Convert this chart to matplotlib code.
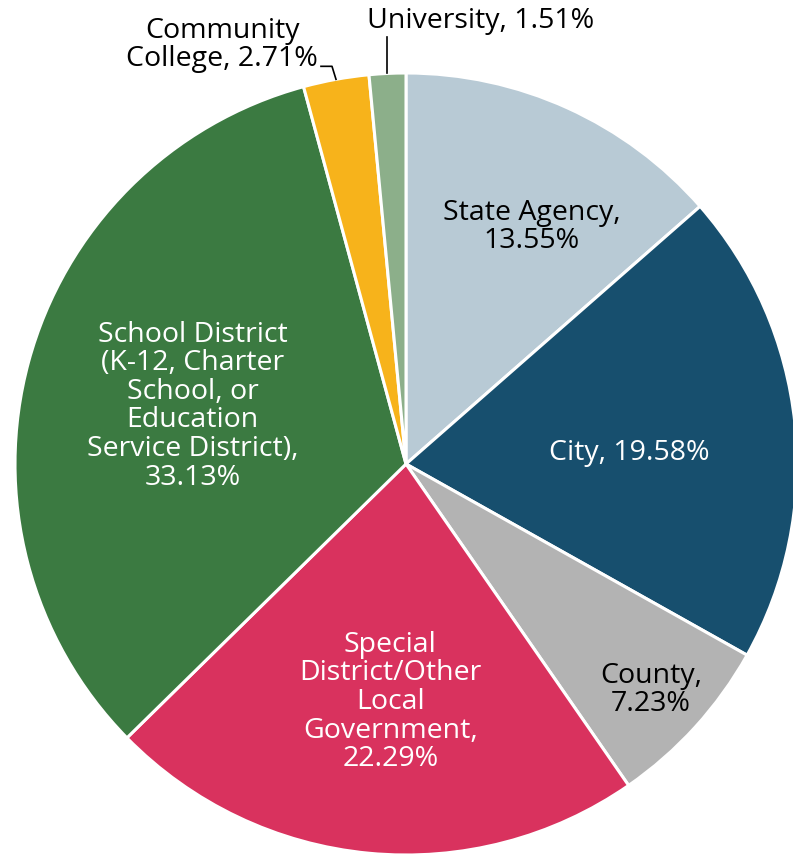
import matplotlib.pyplot as plt
import numpy as np

plt.rcParams['font.family'] = ['Open Sans', 'DejaVu Sans']

# Sector shares (%), clockwise from 12 o'clock
sectors = ['State Agency', 'City', 'County',
           'Special District/Other Local Government',
           'School District (K-12, Charter School, or Education Service District)',
           'Community College', 'University']
shares = [13.55, 19.58, 7.23, 22.29, 33.13, 2.71, 1.51]
colors = ['#b8cad5', '#174f6e', '#b3b3b3', '#d9325e', '#3b7a41', '#f7b31b', '#8caf8a']

# label text (wrapped as printed) and text colour
label_lines = ['State Agency,\n{:.2f}%', 'City, {:.2f}%', 'County,\n{:.2f}%',
               'Special\nDistrict/Other\nLocal\nGovernment,\n{:.2f}%',
               'School District\n(K-12, Charter\nSchool, or\nEducation\nService District),\n{:.2f}%',
               'Community\nCollege, {:.2f}%', 'University, {:.2f}%']
label_colors = ['black', 'white', 'black', 'white', 'white', 'black', 'black']
# inside labels: radius (fraction of R) and angle (deg) of the text block centre
label_r = [0.686, 0.571, 0.852, 0.610, 0.565]
label_ang = [62.0, 2.8, -42.7, -93.8, 164.8]

W, H = 793, 855
fig = plt.figure(figsize=(W / 100, H / 100), dpi=100)
ax = fig.add_axes([0, 0, 1, 1])

cx, cy, R = 406, H - 464, 391
wedges, _ = ax.pie(shares, colors=colors, startangle=90, counterclock=False,
                   center=(cx, cy), radius=R, frame=True,
                   wedgeprops=dict(edgecolor='white', linewidth=2.2))
ax.set_xlim(0, W)
ax.set_ylim(0, H)
ax.set_aspect('equal')
ax.axis('off')

fs = 20.5
ls = 1.03
for i in range(5):
    t = np.deg2rad(label_ang[i])
    x = cx + label_r[i] * R * np.cos(t)
    y = cy + label_r[i] * R * np.sin(t)
    ax.text(x, y, label_lines[i].format(shares[i]), ha='center', va='center',
            color=label_colors[i], fontsize=fs, linespacing=ls)

# small slices: labels outside with leader lines
cc, uni = wedges[5], wedges[6]
a = np.deg2rad((cc.theta1 + cc.theta2) / 2)
ex, ey = cx + R * np.cos(a), cy + R * np.sin(a)
ax.plot([ex, ex - 4, ex - 15], [ey, ey + 13, ey + 13], color='black', lw=1.2)
ax.text(ex - 18, ey + 6, label_lines[5].format(shares[5]), ha='right', va='bottom',
        color='black', fontsize=fs, linespacing=ls, multialignment='center')

a = np.deg2rad((uni.theta1 + uni.theta2) / 2)
ex, ey = cx + R * np.cos(a), cy + R * np.sin(a)
ax.plot([ex, ex], [ey, ey + 36], color='black', lw=1.2)
ax.text(ex - 20, ey + 38, label_lines[6].format(shares[6]), ha='left', va='bottom',
        color='black', fontsize=fs)

fig.savefig('out.png', dpi=100)
